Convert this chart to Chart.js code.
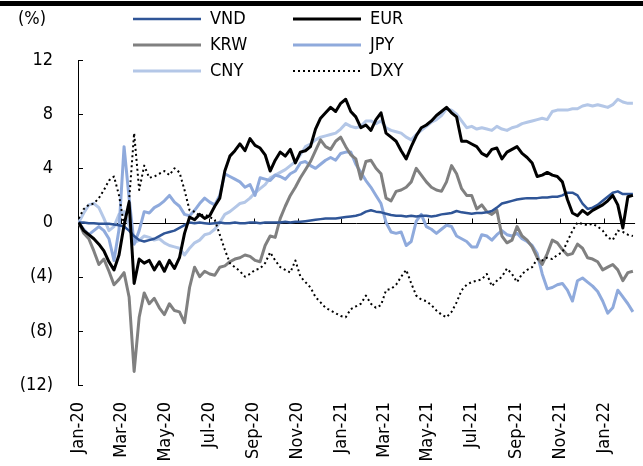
<!DOCTYPE html>
<html>
<head>
<meta charset="utf-8">
<script src="https://cdn.jsdelivr.net/npm/chart.js@4.4.1/dist/chart.umd.min.js"></script>
<style>
    body { margin: 0; background: #fff; }
    #wrap { width: 643px; height: 466px; position: relative; }
</style>
</head>
<body>
<div id="wrap"><canvas id="fxChart" width="643" height="466"></canvas></div>
<script>
// weekly observations, first one on 2 Jan 2020
const firstDate = '2020-01-02';
const stepDays = 7;

const vnd = [0, 0, -0.05, -0.05, -0.1, -0.1, -0.1, -0.15, -0.2, -0.3,
    -0.6, -1.0, -1.3, -1.4, -1.3, -1.2, -1.0, -0.8, -0.7, -0.6,
    -0.4, -0.2, 0, -0.05, 0, -0.05, -0.1, -0.05, 0, -0.05,
    -0.05, 0, -0.05, -0.05, 0, 0, -0.05, 0, 0, 0,
    0, 0.05, 0, 0.05, 0.05, 0.1, 0.15, 0.2, 0.25, 0.3,
    0.3, 0.3, 0.35, 0.4, 0.45, 0.5, 0.6, 0.8, 0.9, 0.8,
    0.75, 0.65, 0.55, 0.5, 0.5, 0.45, 0.5, 0.45, 0.5, 0.5,
    0.45, 0.5, 0.6, 0.65, 0.7, 0.85, 0.75, 0.7, 0.65, 0.7,
    0.7, 0.75, 0.85, 1.1, 1.4, 1.5, 1.6, 1.7, 1.75, 1.8,
    1.8, 1.8, 1.85, 1.85, 1.9, 1.9, 2.0, 2.2, 2.2, 2.0,
    1.4, 1.0, 1.1, 1.3, 1.6, 1.9, 2.2, 2.3, 2.1, 2.1, 2.1];

const eur = [0, -0.6, -0.9, -1.2, -1.6, -2.1, -2.9, -3.5, -2.4, -0.2,
    1.5, -4.5, -2.7, -3.0, -2.8, -3.5, -2.9, -3.6, -2.8, -3.4,
    -2.6, -0.8, 0.4, 0.2, 0.6, 0.3, 0.5, 1.2, 1.8, 3.8,
    4.9, 5.3, 5.8, 5.3, 6.2, 5.7, 5.5, 5.0, 3.8, 4.6,
    5.2, 4.9, 5.4, 4.4, 5.2, 5.3, 5.6, 6.9, 7.7, 8.1,
    8.5, 8.2, 8.8, 9.1, 8.2, 7.8, 7.0, 7.2, 6.8, 7.6,
    8.1, 6.6, 6.3, 6.0, 5.3, 4.7, 5.6, 6.4, 7.0, 7.2,
    7.5, 7.9, 8.2, 8.5, 8.1, 7.8, 6.0, 6.0, 5.8, 5.6,
    5.1, 4.9, 5.4, 5.5, 4.7, 5.2, 5.4, 5.6, 5.1, 4.8,
    4.4, 3.4, 3.5, 3.7, 3.5, 3.4, 3.0, 1.7, 0.7, 0.5,
    0.9, 0.6, 0.9, 1.1, 1.3, 1.6, 2.0, 1.3, -0.4, 1.9, 2.0];

const krw = [0, -0.8, -1.2, -2.1, -3.1, -2.7, -3.6, -4.6, -4.2, -3.7,
    -5.5, -11.0, -7.0, -5.2, -6.0, -5.6, -6.3, -6.8, -6.0, -6.5,
    -6.6, -7.4, -4.8, -3.3, -4.0, -3.6, -3.8, -3.9, -3.3, -3.2,
    -2.9, -2.7, -2.6, -2.4, -2.5, -2.8, -2.9, -1.7, -1.0, -1.1,
    0.3, 1.2, 2.0, 2.6, 3.3, 3.9, 4.5, 5.3, 6.1, 5.6,
    5.4, 6.0, 6.3, 5.6, 5.0, 4.7, 3.2, 4.5, 4.6, 4.0,
    3.6, 1.8, 1.6, 2.3, 2.4, 2.6, 3.0, 4.0, 3.5, 3.0,
    2.6, 2.4, 2.3, 3.0, 4.2, 3.6, 2.5, 2.0, 2.0, 1.0,
    1.3, 0.8, 0.6, 0.9, -1.0, -1.5, -1.3, -0.3, -1.0, -1.3,
    -1.8, -2.6, -3.1, -2.3, -1.3, -1.5, -2.0, -2.4, -2.3, -1.6,
    -1.9, -2.6, -2.7, -2.9, -3.5, -3.3, -3.1, -3.5, -4.3, -3.7, -3.6];

const jpy = [0, -0.5, -0.9, -0.6, -0.3, -0.6, -1.2, -2.8, -0.5, 5.6,
    1.8, -1.6, -0.6, 0.8, 0.7, 1.1, 1.3, 1.6, 2.0, 1.5,
    1.2, 0.6, 0.5, 0.9, 1.4, 1.8, 1.5, 1.3, 2.0, 3.6,
    3.4, 3.2, 3.0, 2.6, 2.8, 2.0, 3.3, 3.2, 3.1, 3.5,
    3.4, 3.2, 3.6, 3.8, 4.4, 4.5, 4.2, 4.0, 4.3, 4.6,
    4.8, 4.6, 5.1, 5.2, 5.2, 4.3, 3.7, 3.1, 2.6, 2.0,
    1.4, 0.0, -0.7, -0.8, -0.7, -1.7, -1.4, 0.1, 0.6, -0.3,
    -0.5, -0.8, -0.5, -0.2, -0.3, -1.0, -1.2, -1.4, -1.8, -1.8,
    -0.9, -1.0, -1.3, -0.9, -0.6, -0.9, -1.0, -0.8, -1.2, -1.4,
    -1.7, -2.3, -3.8, -4.9, -4.8, -4.6, -4.5, -5.0, -5.8, -4.3,
    -4.1, -4.4, -4.7, -5.1, -5.8, -6.7, -6.3, -5.0, -5.5, -6.0, -6.6];

const cny = [0, 0.7, 1.3, 1.4, 1.1, 0.3, -0.6, -0.3, 0.6, 0.8,
    -0.2, -1.5, -1.3, -1.0, -1.1, -1.3, -1.2, -1.5, -1.7, -1.8,
    -1.9, -2.4, -1.9, -1.5, -1.3, -0.9, -0.8, -0.5, 0.0, 0.6,
    0.8, 1.1, 1.4, 1.5, 1.8, 2.2, 2.5, 2.8, 3.3, 3.5,
    3.7, 3.9, 4.2, 4.5, 5.0, 5.6, 5.8, 6.1, 6.3, 6.4,
    6.5, 6.6, 6.9, 7.3, 7.1, 7.0, 7.1, 7.5, 7.5, 7.3,
    7.5, 7.0, 6.8, 6.7, 6.6, 6.3, 6.1, 6.5, 6.8, 7.1,
    7.4, 7.6, 7.9, 8.4, 8.3, 8.0, 7.5, 7.0, 7.1, 6.9,
    7.0, 6.9, 6.8, 7.1, 6.9, 6.8, 7.0, 7.1, 7.3, 7.4,
    7.5, 7.6, 7.7, 7.6, 8.2, 8.3, 8.3, 8.3, 8.4, 8.4,
    8.6, 8.7, 8.6, 8.7, 8.6, 8.5, 8.7, 9.1, 8.9, 8.8, 8.8];

const dxy = [0.3, 1.0, 1.3, 1.4, 1.8, 2.4, 3.1, 3.4, 2.0, -0.2,
    1.6, 6.6, 2.4, 4.2, 3.3, 3.4, 3.6, 3.8, 3.5, 4.0,
    3.7, 2.4, 0.9, 0.8, 0.5, 0.6, 0.4, 0.2, -0.9, -2.0,
    -3.0, -3.3, -3.6, -4.0, -3.8, -3.5, -3.4, -3.0, -2.2, -2.8,
    -3.3, -3.5, -3.7, -2.8, -4.0, -4.4, -4.8, -5.5, -5.9, -6.3,
    -6.5, -6.7, -6.9, -7.0, -6.4, -6.2, -6.0, -5.4, -6.0, -6.3,
    -6.1, -5.0, -4.9, -4.6, -4.0, -3.5, -4.5, -5.4, -5.7, -5.8,
    -6.1, -6.5, -6.8, -7.0, -6.6, -5.9, -5.0, -4.6, -4.4, -4.3,
    -4.2, -3.8, -4.7, -4.3, -4.0, -3.4, -3.8, -4.4, -3.8, -3.5,
    -3.3, -2.7, -2.8, -2.6, -2.7, -2.4, -2.2, -1.4, -0.6, 0.0,
    -0.1, -0.2, -0.1, -0.3, -0.6, -1.1, -1.3, -0.6, -0.7, -0.9, -1.0];

const tickLabels = ['Jan-20', 'Mar-20', 'May-20', 'Jul-20', 'Sep-20', 'Nov-20', 'Jan-21',
    'Mar-21', 'May-21', 'Jul-21', 'Sep-21', 'Nov-21', 'Jan-22'];
const yTicks = [-12, -8, -4, 0, 4, 8, 12];

const FONT = '"DejaVu Sans Condensed", "DejaVu Sans", sans-serif';
const MONTHS = ['Jan', 'Feb', 'Mar', 'Apr', 'May', 'Jun', 'Jul', 'Aug', 'Sep', 'Oct', 'Nov', 'Dec'];
const DAY = 864e5;
const origin = Date.UTC(2020, 0, 1);

// day offset of each tick label from 1 Jan 2020
const tickDays = tickLabels.map(function (l) {
    const p = l.split('-');
    return (Date.UTC(2000 + parseInt(p[1], 10), MONTHS.indexOf(p[0]), 1) - origin) / DAY;
});

function toPoints(values) {
    const p = firstDate.split('-');
    const d0 = (Date.UTC(+p[0], +p[1] - 1, +p[2]) - origin) / DAY;
    return values.map((v, i) => ({ x: d0 + i * stepDays, y: v }));
}

function fmtY(v) {
    return v < 0 ? '(' + (-v) + ')' : String(v);
}

// axis ticks drawn inward, zero line, legend and unit label
const decorations = {
    id: 'decorations',
    beforeDatasetsDraw(chart) {
        const ctx = chart.ctx;
        const x = chart.scales.x, y = chart.scales.y;
        const area = chart.chartArea;
        const y0 = Math.round(y.getPixelForValue(0)) + 0.5;
        ctx.save();
        ctx.strokeStyle = '#000';
        ctx.lineWidth = 1;
        ctx.beginPath();
        ctx.moveTo(area.left, y0);
        ctx.lineTo(area.right, y0);
        tickDays.forEach(function (d) {
            const px = Math.round(x.getPixelForValue(d)) + 0.5;
            ctx.moveTo(px, y0);
            ctx.lineTo(px, y0 - 5);
        });
        yTicks.forEach(function (v) {
            const py = Math.round(y.getPixelForValue(v)) + 0.5;
            ctx.moveTo(area.left, py);
            ctx.lineTo(area.left + 5, py);
        });
        ctx.stroke();
        ctx.restore();
    },
    afterDraw(chart) {
        const ctx = chart.ctx;
        ctx.save();
        // top rule
        ctx.fillStyle = '#000';
        ctx.fillRect(0, 1, chart.width, 5);

        ctx.font = '18px ' + FONT;
        ctx.textBaseline = 'middle';
        ctx.textAlign = 'left';
        ctx.fillText('(%)', 18, 19);

        chart.data.datasets.forEach(function (ds, i) {
            const row = Math.floor(i / 2), col = i % 2;
            const ly = 19 + row * 26;
            const lx = col === 0 ? 133 : 293;
            ctx.strokeStyle = ds.borderColor;
            ctx.lineWidth = ds.borderWidth;
            ctx.setLineDash(ds.borderDash || []);
            ctx.beginPath();
            ctx.moveTo(lx, ly);
            ctx.lineTo(lx + 68, ly);
            ctx.stroke();
            ctx.setLineDash([]);
            ctx.fillStyle = '#000';
            ctx.fillText(ds.label, lx + 77, ly);
        });
        ctx.restore();
    }
};

const ctx = document.getElementById('fxChart').getContext('2d');
const fxChart = new Chart(ctx, {
    type: 'line',
    data: {
        datasets: [
            { label: 'VND', data: toPoints(vnd), borderColor: '#2F5597', borderWidth: 2.5, order: 2 },
            { label: 'EUR', data: toPoints(eur), borderColor: '#000000', borderWidth: 3, order: 1 },
            { label: 'KRW', data: toPoints(krw), borderColor: '#808080', borderWidth: 3, order: 3 },
            { label: 'JPY', data: toPoints(jpy), borderColor: '#8FAADC', borderWidth: 3, order: 4 },
            { label: 'CNY', data: toPoints(cny), borderColor: '#B4C7E7', borderWidth: 3, order: 5 },
            { label: 'DXY', data: toPoints(dxy), borderColor: '#000000', borderWidth: 2, borderDash: [2, 3], order: 0 }
        ]
    },
    options: {
        responsive: false,
        animation: false,
        events: [],
        elements: {
            point: { radius: 0 },
            line: { tension: 0, borderCapStyle: 'butt', borderJoinStyle: 'round' }
        },
        layout: { padding: { top: 60, right: 5, bottom: 0, left: 0 } },
        plugins: {
            legend: { display: false },
            tooltip: { enabled: false }
        },
        scales: {
            x: {
                type: 'linear',
                min: 0,
                max: 774,
                grid: { display: false, drawTicks: false },
                border: { display: false },
                afterBuildTicks: function (scale) {
                    scale.ticks = tickDays.map(d => ({ value: d }));
                },
                afterFit: function (scale) {
                    scale.height = 81;
                },
                ticks: {
                    autoSkip: false,
                    minRotation: 90,
                    maxRotation: 90,
                    padding: 17,
                    color: '#000',
                    font: { family: FONT, size: 18 },
                    callback: function (value) {
                        const i = tickDays.indexOf(value);
                        return i >= 0 ? tickLabels[i] : '';
                    }
                }
            },
            y: {
                min: -12,
                max: 12,
                grid: { display: false, drawTicks: false },
                border: { display: true, color: '#000', width: 1 },
                afterBuildTicks: function (scale) {
                    scale.ticks = yTicks.map(v => ({ value: v }));
                },
                afterFit: function (scale) {
                    scale.width = 78;
                },
                ticks: {
                    padding: 25,
                    color: '#000',
                    font: { family: FONT, size: 18 },
                    callback: fmtY
                }
            }
        }
    },
    plugins: [decorations]
});
</script>
</body>
</html>
